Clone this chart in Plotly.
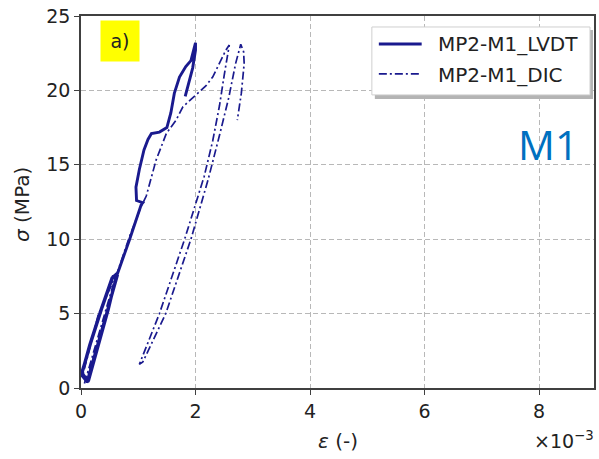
import plotly.graph_objects as go

# strain in units of 1e-3, stress in MPa
lvdt_eps = [0.10, 0.28, 0.46, 0.63, 0.55, 0.36, 0.16, 0.00, 0.11, 0.29, 0.47, 0.64,
            0.56, 0.37, 0.17, 0.02, 0.13, 0.30, 0.48, 0.63, 0.54, 0.35, 0.15, 0.01,
            0.12, 0.31, 0.62, 0.85, 1.05, 1.08, 0.97, 0.96, 1.02, 1.10, 1.17, 1.23,
            1.37, 1.50, 1.57, 1.63, 1.72, 1.83, 1.92, 2.00, 2.00, 1.95, 1.88, 1.82]
lvdt_sig = [0.35, 2.80, 5.20, 7.50, 7.40, 5.30, 2.90, 0.90, 0.40, 2.90, 5.30, 7.60,
            7.50, 5.40, 3.00, 1.00, 0.45, 2.80, 5.30, 7.70, 7.40, 5.30, 2.90, 0.95,
            0.40, 3.00, 7.50, 10.0, 12.3, 12.45, 12.6, 13.5, 14.7, 16.0, 16.7, 17.1,
            17.2, 17.5, 18.5, 19.8, 20.9, 21.6, 22.0, 23.2, 22.7, 21.5, 20.5, 19.6]

dic_eps = [0.06, 0.35, 0.62, 0.30, 0.04, 0.09, 0.40, 0.62, 0.85, 1.05, 1.14, 1.31,
           1.49, 1.66, 1.78, 1.98, 2.18, 2.30, 2.41, 2.53, 2.59, 2.55, 2.50, 2.42,
           2.30, 2.15, 1.81, 1.37, 1.05, 1.02, 1.08, 1.48, 1.92, 2.22, 2.42, 2.58,
           2.70, 2.79, 2.84, 2.85, 2.80, 2.73]
dic_sig = [0.30, 4.20, 7.70, 4.90, 1.00, 0.50, 4.40, 7.60, 10.2, 12.2, 12.9, 15.3,
           17.1, 18.0, 18.9, 19.6, 20.3, 20.9, 21.8, 22.7, 23.05, 22.0, 21.0, 19.0,
           16.6, 14.2, 10.0, 5.0, 1.9, 1.6, 1.75, 5.0, 10.0, 14.0, 17.0, 19.5,
           21.8, 23.1, 22.6, 21.8, 19.8, 18.0]

x_ticks = [0, 2, 4, 6, 8]
y_ticks = [0, 5, 10, 15, 20, 25]
series_names = ["MP2-M1_LVDT", "MP2-M1_DIC"]

navy = "#1a1a8e"
font_main = "DejaVu Sans"
dashdot = "8px,3px,2px,3px"

# plot-area geometry (pixels) used to place decorations
W, H = 599, 459
ML, MR, MT, MB = 81, 3, 16, 70.5
PW, PH = W - ML - MR, H - MT - MB


def px(x):
    return (x - ML) / PW


def py(y):
    return (H - MB - y) / PH


fig = go.Figure()
fig.add_trace(go.Scatter(x=lvdt_eps, y=lvdt_sig, mode="lines", name=series_names[0],
                         line=dict(color=navy, width=2.9)))
fig.add_trace(go.Scatter(x=dic_eps, y=dic_sig, mode="lines", name=series_names[1],
                         line=dict(color=navy, width=1.7, dash=dashdot)))

axis_common = dict(showline=True, linecolor="#404040", linewidth=1.5, mirror=True,
                   ticks="outside", ticklen=5, tickwidth=1.2, tickcolor="#404040",
                   showgrid=True, gridcolor="#b8b8b8", gridwidth=1, griddash="5px,3px",
                   zeroline=False, tickfont=dict(family=font_main, size=19, color="#222"))

fig.update_xaxes(range=[0, 8.96], tickvals=x_ticks, **axis_common)
fig.update_yaxes(range=[0, 25], tickvals=y_ticks, **axis_common)

shapes = [
    # legend shadow and box
    dict(type="rect", xref="paper", yref="paper", x0=px(376), x1=px(595),
         y0=py(99), y1=py(30), fillcolor="#b4b4b4", line=dict(width=0), layer="above"),
    dict(type="rect", xref="paper", yref="paper", x0=px(373), x1=px(592),
         y0=py(95), y1=py(27), fillcolor="white", line=dict(color="#cfcfcf", width=1),
         layer="above"),
    # legend line samples
    dict(type="line", xref="paper", yref="paper", x0=px(380), x1=px(423),
         y0=py(44), y1=py(44), line=dict(color=navy, width=2.9), layer="above"),
    dict(type="line", xref="paper", yref="paper", x0=px(380), x1=px(423),
         y0=py(74), y1=py(74), line=dict(color=navy, width=1.7, dash=dashdot), layer="above"),
]

annotations = [
    dict(text=series_names[0], xref="paper", yref="paper", x=px(437), y=py(44),
         xanchor="left", yanchor="middle", showarrow=False,
         font=dict(family=font_main, size=20, color="#222")),
    dict(text=series_names[1], xref="paper", yref="paper", x=px(437), y=py(75),
         xanchor="left", yanchor="middle", showarrow=False,
         font=dict(family=font_main, size=20, color="#222")),
    dict(text="<i>σ</i> (MPa)", xref="paper", yref="paper", x=px(22), y=py(205),
         textangle=-90, showarrow=False, xanchor="center", yanchor="middle",
         font=dict(family=font_main, size=20, color="#222")),
    dict(text="<i>ε</i> (-)", xref="paper", yref="paper", x=0.5, y=py(442),
         showarrow=False, xanchor="center", yanchor="middle",
         font=dict(family=font_main, size=20, color="#222")),
    dict(text="×10<sup>−3</sup>", xref="paper", yref="paper", x=px(598), y=py(441),
         xanchor="right", yanchor="middle", showarrow=False,
         font=dict(family=font_main, size=19, color="#222")),
    dict(text="a)", xref="paper", yref="paper", x=px(100), y=py(20),
         xanchor="left", yanchor="top", showarrow=False, bgcolor="#ffff00",
         width=36, height=38, font=dict(family=font_main, size=19, color="#222")),
    dict(text="M1", xref="paper", yref="paper", x=px(550), y=py(144),
         xanchor="center", yanchor="middle", showarrow=False,
         font=dict(family="Open Sans", size=41, color="#0070c0")),
]

fig.update_layout(
    width=W, height=H,
    margin=dict(l=ML, r=MR, t=MT, b=MB),
    paper_bgcolor="white", plot_bgcolor="white",
    showlegend=False,
    shapes=shapes,
    annotations=annotations,
)

fig.write_html("out.html")
